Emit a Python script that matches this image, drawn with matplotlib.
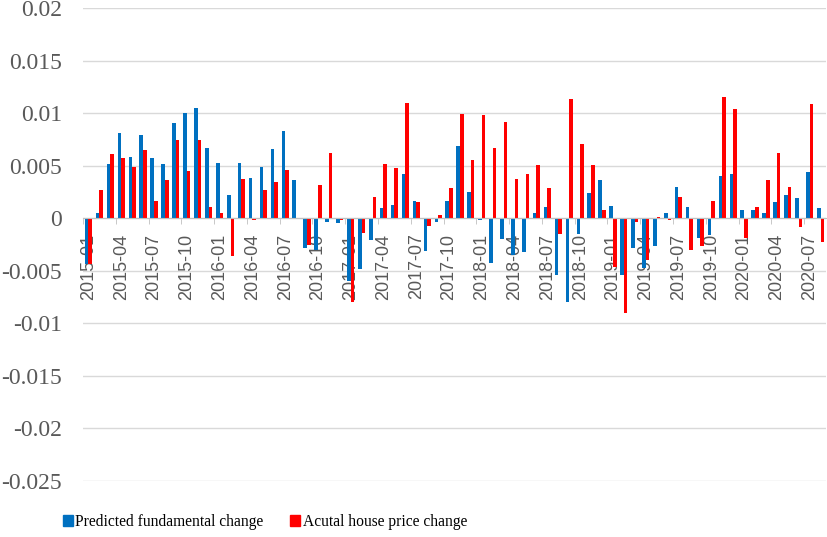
import matplotlib
matplotlib.use("Agg")
import matplotlib.pyplot as plt
import numpy as np
from matplotlib.patches import Patch

months = [f"{y}-{m:02d}" for y in range(2015, 2021) for m in range(1, 13)][:68]

predicted = [-0.0044, 0.0005, 0.0052, 0.0081, 0.0058, 0.0079, 0.0057, 0.0052, 0.0091, 0.0100,
             0.0105, 0.0067, 0.0053, 0.0022, 0.0053, 0.0038,
             0.0049, 0.0066, 0.0083, 0.0036, -0.0028, -0.0030, -0.0004, -0.0005, -0.0060, -0.0048,
             -0.0021, 0.0010, 0.0013, 0.0042, 0.0016, -0.0031,
             -0.0004, 0.0016, 0.0069, 0.0025, -0.0002, -0.0043, -0.0020, -0.0035, -0.0032, 0.0005,
             0.0011, -0.0054, -0.0080, -0.0015, 0.0024, 0.0036,
             0.0012, -0.0054, -0.0028, -0.0047, -0.0026, 0.0005, 0.0030, 0.0011, -0.0019, -0.0016,
             0.0040, 0.0042, 0.0008, 0.0008, 0.0005, 0.0015, 0.0022, 0.0019, 0.0044, 0.0010]

actual = [-0.0044, 0.0027, 0.0061, 0.0057, 0.0049, 0.0065, 0.0016, 0.0036, 0.0074, 0.0045,
          0.0074, 0.0011, 0.0005, -0.0036, 0.0037, -0.0002,
          0.0027, 0.0034, 0.0046, -0.0001, -0.0025, 0.0032, 0.0062, -0.0002, -0.0080, -0.0014,
          0.0020, 0.0052, 0.0048, 0.0110, 0.0015, -0.0007,
          0.0003, 0.0029, 0.0099, 0.0055, 0.0098, 0.0067, 0.0092, 0.0037, 0.0042, 0.0051,
          0.0029, -0.0015, 0.0113, 0.0071, 0.0051, 0.0008,
          -0.0046, -0.0090, -0.0004, -0.0040, 0.0001, -0.0002, 0.0020, -0.0030, -0.0026, 0.0016,
          0.0115, 0.0104, -0.0019, 0.0011, 0.0036, 0.0062, 0.0030, -0.0008, 0.0109, -0.0023]

series_names = ["Predicted fundamental change", "Acutal house price change"]
colors = ["#0070C0", "#FF0000"]
yticks = [0.02, 0.015, 0.01, 0.005, 0, -0.005, -0.01, -0.015, -0.02, -0.025]

fig = plt.figure(figsize=(8.27, 5.37), dpi=100)
ax = fig.add_axes([83/827, 1 - 481/537, 743/827, 473/537])

x = np.arange(len(months))
w = 0.33
ax.bar(x - w/2, predicted, width=w, color=colors[0], zorder=3)
ax.bar(x + w/2, actual, width=w, color=colors[1], zorder=3)

ax.set_xlim(-0.5, len(months) - 0.5)
ax.set_ylim(-0.025, 0.02)
ax.set_yticks(yticks)
ax.set_yticklabels([f"{v:g}" for v in yticks], family="Liberation Serif", fontsize=17,
                   color="#595959")
ax.tick_params(axis="y", length=0, pad=15)
ax.grid(axis="y", color="#D9D9D9", linewidth=1, zorder=0)

for s in ["top", "right", "left"]:
    ax.spines[s].set_visible(False)
ax.spines["bottom"].set_position(("data", 0))
ax.spines["bottom"].set_color("#BFBFBF")
ax.spines["bottom"].set_zorder(4)

tick_idx = x[::3]
ax.set_xticks(tick_idx)
ax.set_xticklabels([months[i] for i in tick_idx], rotation=90, family="Liberation Sans",
                   fontsize=13, color="#595959")
ax.tick_params(axis="x", which="major", length=0, pad=11)
ax.set_xticks(np.arange(-0.5, len(months), 3), minor=True)
ax.tick_params(axis="x", which="minor", length=4, color="#BFBFBF")

handles = [Patch(color=c) for c in colors]
fig.legend(handles, series_names, loc="center left", bbox_to_anchor=(49/827, 1 - 522/537),
           frameon=False, ncol=2, handlelength=0.65, handleheight=0.75, handletextpad=0.15,
           columnspacing=1.7, prop={"family": "Liberation Serif", "size": 11.2})

fig.savefig("out.png", dpi=100)
